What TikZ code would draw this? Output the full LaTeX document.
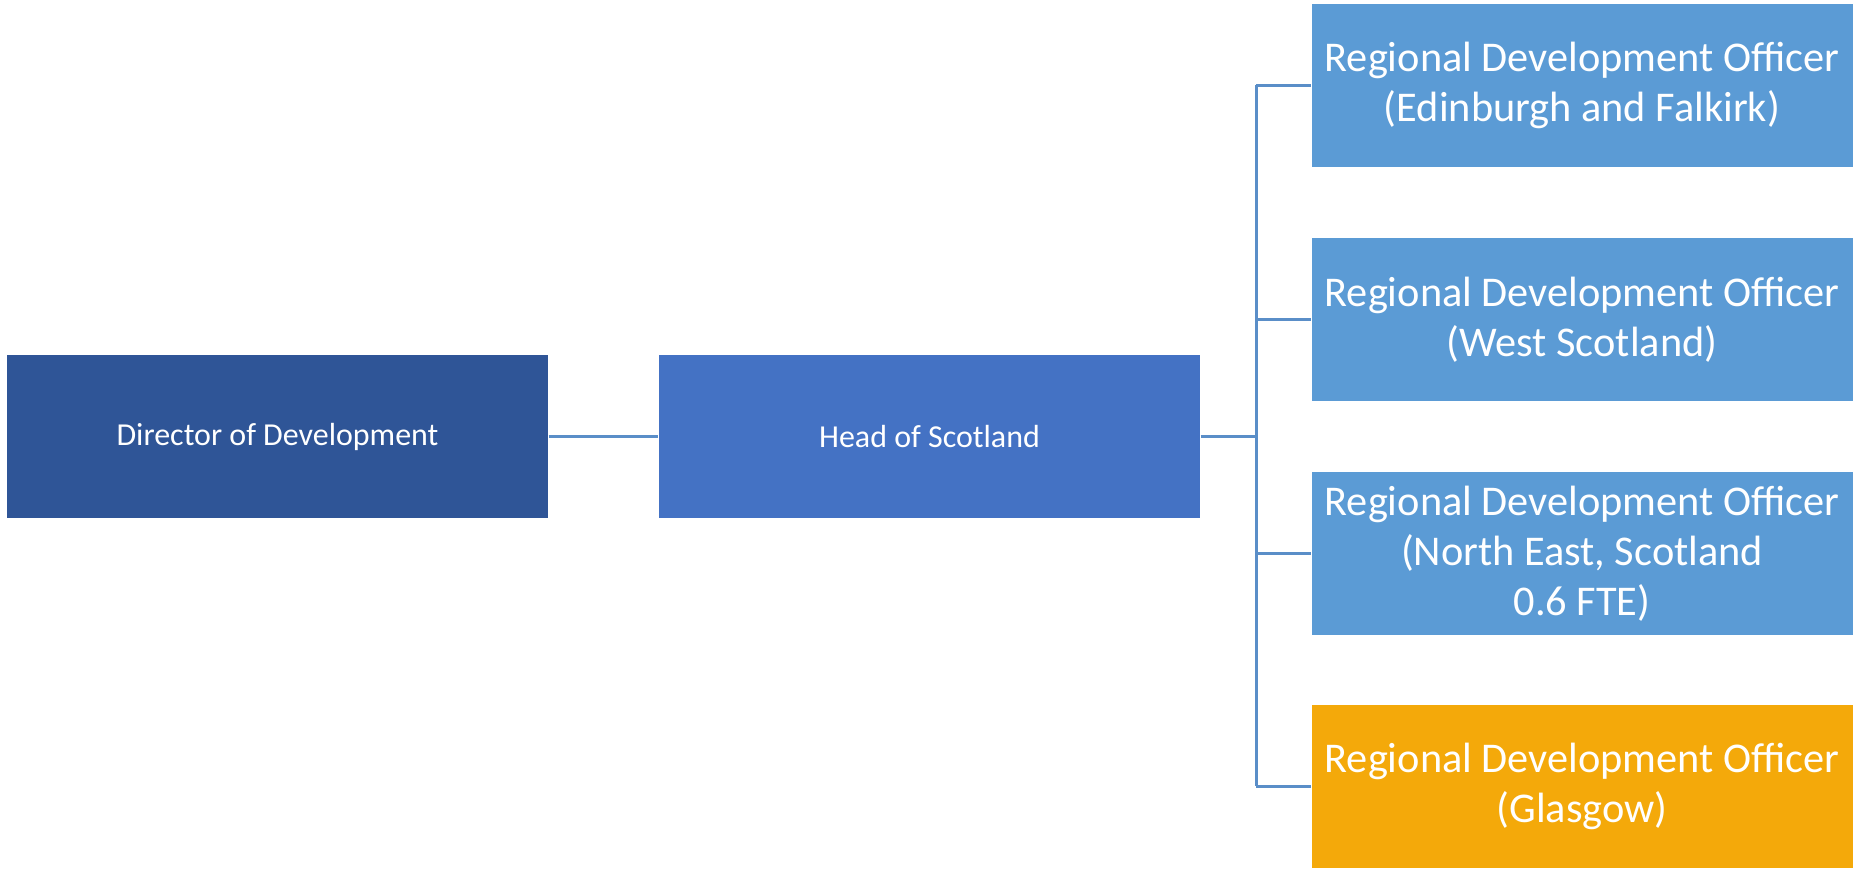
\documentclass[tikz,border=0pt]{standalone}
\usepackage{fontspec}
\setmainfont{Carlito}
\usepackage{tikz}
\definecolor{dirblue}{HTML}{2F5597}
\definecolor{headblue}{HTML}{4472C4}
\definecolor{officerblue}{HTML}{5B9BD5}
\definecolor{glasgow}{HTML}{F4A90A}
\definecolor{linkblue}{HTML}{5A8EC8}
\begin{document}
\begin{tikzpicture}
\tikzset{box/.style={minimum width=5.41cm, minimum height=1.63cm, text=white, align=center, inner sep=0pt},
  small/.style={font=\fontsize{9.1}{11}\selectfont},
  large/.style={font=\fontsize{12.05}{14.2}\selectfont},
  link/.style={draw=linkblue, line width=0.85pt}}
\useasboundingbox (0,0) rectangle (18.55,8.73);
\node[box, small, fill=dirblue] (Director) at (02.775,4.365) {Director of Development};
\node[box, small, fill=headblue] (Head) at (09.295,4.365) {Head of Scotland};
\node[box, large, fill=officerblue] (Officer1) at (15.82,7.875) {Regional Development Officer\\(Edinburgh and Falkirk)};
\node[box, large, fill=officerblue] (Officer2) at (15.82,5.535) {Regional Development Officer\\(West Scotland)};
\node[box, large, fill=officerblue] (Officer3) at (15.82,3.195) {Regional Development Officer\\(North East, Scotland\\0.6 FTE)};
\node[box, large, fill=glasgow] (Officer4) at (15.82,0.865) {Regional Development Officer\\(Glasgow)};
\coordinate (Bus) at (12.56,4.365);
\draw[link] (Director) -- (Head);
\draw[link] (Head) -- (Bus);
\draw[link] (Bus |- Officer1) -- (Bus |- Officer4);
\foreach \n in {1,...,4}\draw[link] (Bus |- Officer\n) -- (Officer\n.west);
\end{tikzpicture}
\end{document}
